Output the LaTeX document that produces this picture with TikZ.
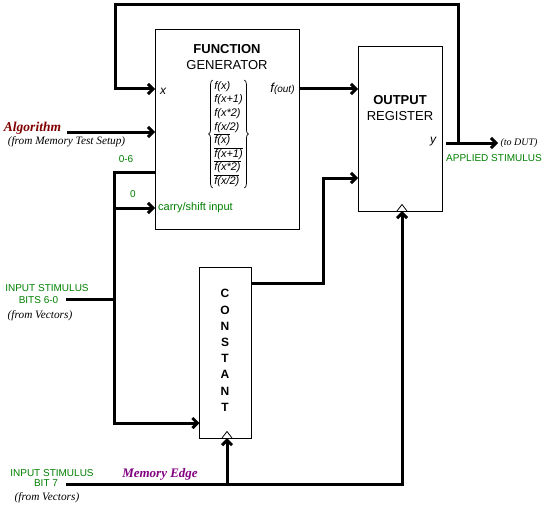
\documentclass[tikz,border=0pt]{standalone}
\usepackage[svgnames]{xcolor}
\usepackage{tikz}
\usepackage{amsmath,amsfonts}
\usepackage{fontspec}
\setmainfont{Liberation Sans}
\newfontfamily\serifit{Liberation Serif}
\usetikzlibrary{arrows.meta}
\usetikzlibrary{decorations.pathreplacing}
\pgfdeclarelayer{edgelayer}
\pgfdeclarelayer{nodelayer}
\pgfsetlayers{edgelayer,nodelayer,main}
\tikzstyle{none}=[inner sep=0pt]
\tikzstyle{block}=[rectangle,draw=Black,line width=1pt,inner sep=0pt]
\tikzstyle{title}=[inner sep=0pt,font=\fontsize{13}{15}\selectfont\bfseries]
\tikzstyle{subtitle}=[inner sep=0pt,font=\fontsize{13}{15}\selectfont]
\tikzstyle{pin}=[inner sep=0pt,font=\fontsize{12}{14}\selectfont\itshape]
\tikzstyle{funclist}=[inner xsep=1.5pt,inner ysep=1pt,align=left,font=\fontsize{11}{13.6}\selectfont\itshape]
\tikzstyle{greenlabel}=[inner sep=0pt,text=Green,font=\fontsize{10}{12}\selectfont]
\tikzstyle{source}=[inner sep=0pt,font=\fontsize{11.3}{13}\selectfont\serifit\itshape]
\tikzstyle{signal}=[inner sep=0pt,font=\fontsize{13.5}{15}\selectfont\serifit\bfseries\itshape]
\tikzstyle{simple}=[-,draw=Black,line width=3pt]
\tikzstyle{arrow}=[-{Straight Barb[length=5pt,width=10pt]},draw=Black,line width=3pt]
\tikzstyle{clock}=[-,draw=Black,line width=0.8pt]
\tikzstyle{brace}=[-,draw=Black,line width=0.7pt,decorate,decoration={brace,amplitude=4pt}]
\newcommand{\negf}[1]{$\overline{\mbox{\itshape #1}}$}
\begin{document}
\begin{tikzpicture}[x=10pt,y=-10pt]
	\useasboundingbox (0,0) rectangle (54.8,50.8);
	\begin{pgfonlayer}{nodelayer}
		\node [style=block, minimum width=144pt, minimum height=199pt] (0) at (22.7, 12.95) {};
		\node [style=block, minimum width=84pt, minimum height=164pt] (1) at (40, 12.9) {};
		\node [style=block, minimum width=52pt, minimum height=171pt] (2) at (22.55, 35.25) {};
		\node [style=title] (3) at (22.7, 4.9) {FUNCTION};
		\node [style=subtitle] (4) at (22.7, 6.5) {GENERATOR};
		\node [style=funclist] (5) at (22.85, 13.4) {f(x)\\f(x+1)\\f(x*2)\\f(x/2)\\\negf{f(x)}\\\negf{f(x+1)}\\\negf{f(x*2)}\\\negf{f(x/2)}};
		\node [style=pin] (6) at (16.3, 9.1) {x};
		\node [style=pin] (7) at (28.25, 8.9) {{\fontsize{13}{15}\selectfont f}{\fontsize{10}{12}\selectfont(out)}};
		\node [style=greenlabel, anchor=west] (8) at (15.8, 20.8) {\fontsize{11}{13}\selectfont carry/shift input};
		\node [style=title] (9) at (40, 10) {OUTPUT};
		\node [style=subtitle] (10) at (40, 11.6) {REGISTER};
		\node [style=pin] (11) at (43.3, 14.2) {y};
		\node [style=title, align=center, font=\fontsize{12}{16.2}\selectfont\bfseries] (12) at (22.5, 35.05) {C\\O\\N\\S\\T\\A\\N\\T};
		\node [style=signal, text=Maroon] (13) at (3.25, 12.85) {Algorithm};
		\node [style=source] (14) at (6.65, 14.2) {(from Memory Test Setup)};
		\node [style=greenlabel] (15) at (12.6, 15.9) {0-6};
		\node [style=greenlabel] (16) at (13.3, 19.4) {0};
		\node [style=greenlabel] (17) at (4.7, 28.8) {INPUT STIMULUS};
		\node [style=greenlabel] (18) at (3.85, 30) {BITS 6-0};
		\node [style=source] (19) at (4, 31.6) {(from Vectors)};
		\node [style=greenlabel] (20) at (5.2, 47.3) {INPUT STIMULUS};
		\node [style=greenlabel] (21) at (4.6, 48.3) {BIT 7};
		\node [style=source] (22) at (4.7, 49.8) {(from Vectors)};
		\node [style=signal, text=Purple, font=\fontsize{13}{15}\selectfont\serifit\bfseries\itshape] (23) at (16, 47.4) {Memory Edge};
		\node [style=source, font=\fontsize{10}{12}\selectfont\serifit\itshape] (24) at (51.9, 14.3) {(to DUT)};
		\node [style=greenlabel] (25) at (49.4, 15.8) {APPLIED STIMULUS};
		\node [style=none] (30) at (11.5, 0.45) {};
		\node [style=none] (31) at (45.8, 0.45) {};
		\node [style=none] (32) at (11.5, 8.9) {};
		\node [style=none] (33) at (15.5, 8.9) {};
		\node [style=none] (34) at (45.8, 14.3) {};
		\node [style=none] (35) at (44.6, 14.3) {};
		\node [style=none] (36) at (49.8, 14.3) {};
		\node [style=none] (37) at (30, 8.9) {};
		\node [style=none] (38) at (35.8, 8.9) {};
		\node [style=none] (39) at (6.7, 13.2) {};
		\node [style=none] (40) at (15.5, 13.2) {};
		\node [style=none] (41) at (11.4, 17.2) {};
		\node [style=none] (42) at (15.5, 17.2) {};
		\node [style=none] (43) at (11.4, 20.8) {};
		\node [style=none] (44) at (15.5, 20.8) {};
		\node [style=none] (45) at (11.4, 42.3) {};
		\node [style=none] (46) at (19.95, 42.3) {};
		\node [style=none] (47) at (6.6, 29.9) {};
		\node [style=none] (48) at (11.4, 29.9) {};
		\node [style=none] (49) at (25.15, 28.3) {};
		\node [style=none] (50) at (32.3, 28.3) {};
		\node [style=none] (51) at (32.3, 17.8) {};
		\node [style=none] (52) at (35.8, 17.8) {};
		\node [style=none] (53) at (6.6, 48.4) {};
		\node [style=none] (54) at (40.2, 48.4) {};
		\node [style=none] (55) at (22.7, 48.4) {};
		\node [style=none] (56) at (22.7, 43.8) {};
		\node [style=none] (57) at (40.2, 21.1) {};
	\end{pgfonlayer}
	\begin{pgfonlayer}{edgelayer}
		\draw [style=arrow] (35.center) to (36.center);
		\draw [style=arrow] (34.center) to (31.center) to (30.center) to (32.center) to (33.center);
		\draw [style=arrow] (37.center) to (38.center);
		\draw [style=arrow] (39.center) to (40.center);
		\draw [style=arrow] (42.center) to (41.center) to (45.center) to (46.center);
		\draw [style=arrow] (43.center) to (44.center);
		\draw [style=simple] (47.center) to (48.center);
		\draw [style=arrow] (49.center) to (50.center) to (51.center) to (52.center);
		\draw [style=arrow] (53.center) to (54.center) to (57.center);
		\draw [style=arrow] (55.center) to (56.center);
		\draw [style=brace] (5.south west) to (5.north west);
		\draw [style=brace] (5.north east) to (5.south east);
		\draw [style=clock] (39.7, 21.1) to (40.2, 20.45) to (40.7, 21.1);
		\draw [style=clock] (22.2, 43.8) to (22.7, 43.15) to (23.2, 43.8);
	\end{pgfonlayer}
\end{tikzpicture}
\end{document}
